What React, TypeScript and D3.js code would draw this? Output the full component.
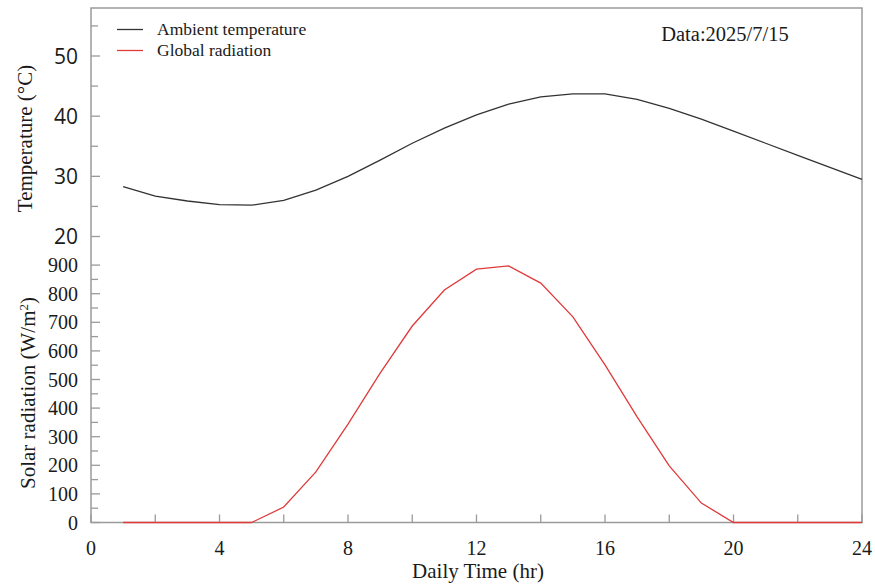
import React from "react";
import * as d3 from "d3";

const hours = [1,2,3,4,5,6,7,8,9,10,11,12,13,14,15,16,17,18,19,20,21,22,23,24];
const ambientTemp = [28.3,26.7,25.9,25.3,25.2,26.0,27.7,30.0,32.7,35.5,38.0,40.2,42.0,43.2,43.7,43.7,42.8,41.3,39.5,37.5,35.5,33.5,31.5,29.5];
const globalRad = [0,0,0,0,0,54,177,344,522,687,813,886,897,837,719,551,369,198,68,0,0,0,0,0];
const xTicks = [0,4,8,12,16,20,24];
const xMinorTicks = [2,6,10,14,18,22];
const tempTicks = [20,30,40,50];
const tempMinor = [25,35,45,55];
const radTicks = [0,100,200,300,400,500,600,700,800,900];
const radMinor = [50,150,250,350,450,550,650,750,850];

const serif = "'Liberation Serif', 'Times New Roman', serif";
const sans = "'Open Sans', sans-serif";

export default function App() {
  const left = 91, right = 862, top = 8, bottom = 522.5, mid = 236.5;
  const x = d3.scaleLinear().domain([0, 24]).range([left, right]);
  const yT = d3.scaleLinear().domain([20, 50]).range([mid, 56]);
  const yR = d3.scaleLinear().domain([0, 1000]).range([bottom, mid]);

  const tempLine = d3.line<number>().x((_, i) => x(hours[i])).y((d) => yT(d))(ambientTemp) || "";
  const radLine = d3.line<number>().x((_, i) => x(hours[i])).y((d) => yR(d))(globalRad) || "";

  const axisColor = "#9a9a9a";
  const textColor = "#1a1a1a";

  return (
    <svg width={875} height={585} style={{ position: "absolute", left: 0, top: 0, background: "#fff" }}>
      <rect x={0} y={0} width={875} height={585} fill="#fff" />
      {/* frame */}
      <rect x={left} y={top} width={right - left} height={bottom - top} fill="none" stroke={axisColor} strokeWidth={1.5} />

      {/* x ticks */}
      {xTicks.concat(xMinorTicks).map((t) => (
        <line key={"xt" + t} x1={x(t)} x2={x(t)} y1={bottom} y2={bottom - 8} stroke={axisColor} strokeWidth={1.3} />
      ))}
      {xTicks.map((t) => (
        <text key={"xl" + t} x={x(t)} y={555} textAnchor="middle" fontFamily={serif} fontSize={20} fill={textColor}>{t}</text>
      ))}

      {/* temperature ticks */}
      {tempTicks.map((t) => (
        <line key={"tt" + t} x1={left} x2={left + 9} y1={yT(t)} y2={yT(t)} stroke={axisColor} strokeWidth={1.3} />
      ))}
      {tempMinor.map((t) => (
        <line key={"tm" + t} x1={left} x2={left + 7} y1={yT(t)} y2={yT(t)} stroke={axisColor} strokeWidth={1.3} />
      ))}
      {tempTicks.map((t) => (
        <text key={"tl" + t} x={78} y={yT(t) + 7.5} textAnchor="end" fontFamily={sans} fontSize={21} fill={textColor}>{t}</text>
      ))}

      {/* radiation ticks */}
      {radTicks.map((t) => (
        <line key={"rt" + t} x1={left} x2={left + 9} y1={yR(t)} y2={yR(t)} stroke={axisColor} strokeWidth={1.3} />
      ))}
      {radMinor.map((t) => (
        <line key={"rm" + t} x1={left} x2={left + 7} y1={yR(t)} y2={yR(t)} stroke={axisColor} strokeWidth={1.3} />
      ))}
      {radTicks.map((t) => (
        <text key={"rl" + t} x={78} y={yR(t) + 7} textAnchor="end" fontFamily={serif} fontSize={20} fill={textColor}>{t}</text>
      ))}

      {/* data lines */}
      <path d={radLine} fill="none" stroke="#e03a3a" strokeWidth={1.3} />
      <path d={tempLine} fill="none" stroke="#333" strokeWidth={1.3} />

      {/* legend */}
      <line x1={117} x2={143} y1={29.5} y2={29.5} stroke="#333" strokeWidth={1.3} />
      <text x={157} y={35} fontFamily={serif} fontSize={17.5} fill={textColor}>Ambient temperature</text>
      <line x1={117} x2={143} y1={50.5} y2={50.5} stroke="#e03a3a" strokeWidth={1.3} />
      <text x={157} y={56} fontFamily={serif} fontSize={17.5} fill={textColor}>Global radiation</text>

      <text x={725} y={41} textAnchor="middle" fontFamily={serif} fontSize={20.5} fill={textColor}>Data:2025/7/15</text>

      {/* axis titles */}
      <text transform="translate(31.5,138.5) rotate(-90)" textAnchor="middle" fontFamily={serif} fontSize={21} fill={textColor}>Temperature (°C)</text>
      <text transform="translate(35,393) rotate(-90)" textAnchor="middle" fontFamily={serif} fontSize={21} fill={textColor}>
        Solar radiation (W/m<tspan fontSize={13} dy={-7}>2</tspan><tspan dy={7}>)</tspan>
      </text>
      <text x={478} y={578} textAnchor="middle" fontFamily={serif} fontSize={21} fill={textColor}>Daily Time (hr)</text>
    </svg>
  );
}
